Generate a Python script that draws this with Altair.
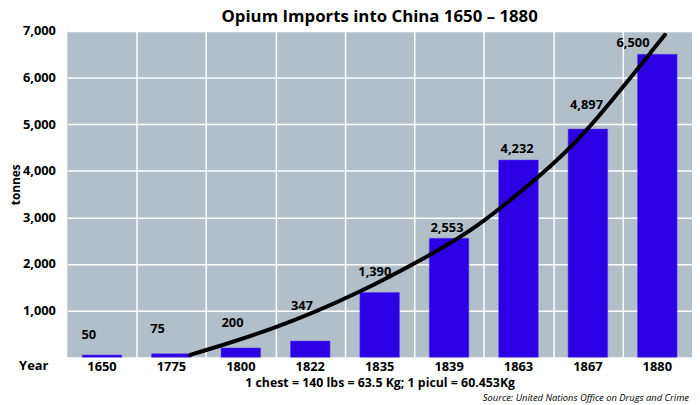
import pandas as pd
import altair as alt

FONT = "Open Sans"
BAR_COLOR = "#2c00e4"
BG_COLOR = "#b3bfc8"

years = ["1650", "1775", "1800", "1822", "1835", "1839", "1863", "1867", "1880"]
tonnes = [50, 75, 200, 347, 1390, 2553, 4232, 4897, 6500]

# where each value label sits (band units across, tonnes up)
label_u = [0.31, 1.30, 2.38, 3.38, 4.43, 5.47, 6.48, 7.48, 8.15]
label_tonnes = [470, 595, 735, 1090, 1830, 2770, 4470, 5410, 6750]

# hand drawn trend curve
curve_u = [1.77, 3.02, 4.23, 5.20, 5.87, 6.82, 7.39, 8.61]
curve_tonnes = [50, 616, 1395, 2172, 2739, 3907, 4650, 6921]

bars_df = pd.DataFrame({"year": years, "tonnes": tonnes})
labels_df = pd.DataFrame({
    "u": label_u,
    "t": label_tonnes,
    "text": [f"{v:,}" for v in tonnes],
})
curve_df = pd.DataFrame({"u": curve_u, "t": curve_tonnes})

y_scale = alt.Scale(domain=[0, 7000], nice=False)
u_scale = alt.Scale(domain=[0, 9], nice=False, zero=False)

# same y axis in every layer so they merge into one
y_axis = alt.Axis(
    title="tonnes",
    titleFont=FONT,
    titleFontSize=12,
    titleFontWeight="bold",
    titleX=-45,
    titleY=155,
    values=[1000, 2000, 3000, 4000, 5000, 6000, 7000],
    format=",.0f",
    labelFont=FONT,
    labelFontSize=13,
    labelFontWeight="bold",
    labelColor="black",
    labelPadding=12,
    ticks=False,
    domain=False,
    gridColor="white",
    gridWidth=1.5,
)

bars = (
    alt.Chart(bars_df)
    .mark_bar(color=BAR_COLOR, stroke="#5a3cf0", strokeWidth=0.5)
    .encode(
        x=alt.X(
            "year:N",
            sort=years,
            scale=alt.Scale(paddingInner=0.43, paddingOuter=0.215),
            axis=alt.Axis(
                title="1 chest = 140 lbs = 63.5 Kg; 1 picul = 60.453Kg",
                titleFont=FONT,
                titleFontSize=12.5,
                titleFontWeight="bold",
                titlePadding=4,
                labelFont=FONT,
                labelFontSize=13,
                labelFontWeight="bold",
                labelColor="black",
                labelAngle=0,
                labelPadding=3,
                ticks=False,
                domain=False,
                grid=False,
            ),
        ),
        y=alt.Y("tonnes:Q", scale=y_scale, axis=y_axis),
    )
)

curve = (
    alt.Chart(curve_df)
    .mark_line(color="black", strokeWidth=4, interpolate="basis", strokeCap="round")
    .encode(
        x=alt.X(
            "u:Q",
            scale=u_scale,
            axis=alt.Axis(
                orient="top",
                values=[1, 2, 3, 4, 5, 6, 7, 8],
                labels=False,
                ticks=False,
                domain=False,
                title=None,
                grid=True,
                gridColor="white",
                gridWidth=1.5,
                minExtent=0,
                maxExtent=0,
            ),
        ),
        y=alt.Y("t:Q", scale=y_scale, axis=y_axis),
    )
)

labels = (
    alt.Chart(labels_df)
    .mark_text(font=FONT, fontSize=13, fontWeight="bold", color="black", baseline="middle")
    .encode(
        x=alt.X("u:Q", scale=u_scale, axis=None),
        y=alt.Y("t:Q", scale=y_scale, axis=y_axis),
        text="text:N",
    )
)

year_word = (
    alt.Chart(bars_df)
    .transform_filter("datum.year == '1650'")
    .mark_text(text="Year", font=FONT, fontSize=13, fontWeight="bold", color="black")
    .encode(x=alt.value(-34), y=alt.value(339))
)

source = (
    alt.Chart(bars_df)
    .transform_filter("datum.year == '1650'")
    .mark_text(
        text="Source: United Nations Office on Drugs and Crime",
        font=FONT, fontSize=9.5, fontStyle="italic", color="black", align="right",
    )
    .encode(x=alt.value(629), y=alt.value(371))
)

chart = (
    alt.layer(bars, curve, labels, year_word, source)
    .resolve_scale(x="independent")
    .properties(
        width=632,
        height=330,
        autosize=alt.AutoSizeParams(type="none"),
        padding={"left": 60, "top": 21, "right": 0, "bottom": 44},
        title=alt.TitleParams(
            "Opium Imports into China 1650 \u2013 1880",
            font=FONT, fontSize=17, fontWeight="bold", color="black",
            anchor="middle", offset=-1,
        ),
    )
    .configure_view(fill=BG_COLOR, stroke=None)
)

chart.save("out.html", embed_options={"renderer": "svg", "actions": False})
